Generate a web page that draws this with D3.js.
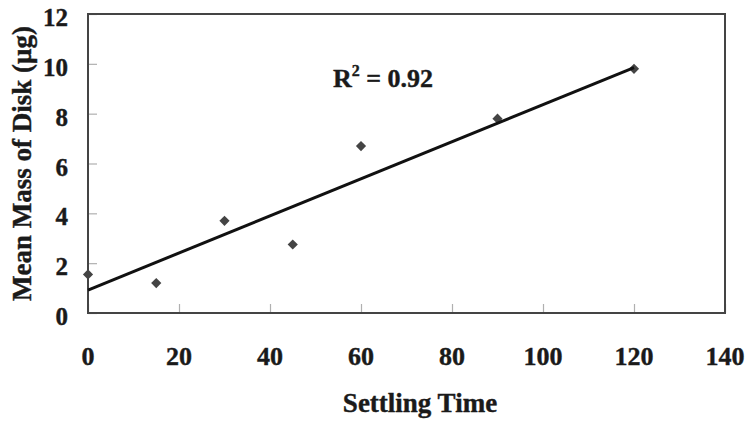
<!DOCTYPE html>
<html>
<head>
<meta charset="utf-8">
<script src="https://cdn.jsdelivr.net/npm/d3@7"></script>
<style>
  body { margin: 0; background: #fff; }
  text { font-family: "Liberation Serif", "Times New Roman", serif; font-weight: bold; fill: #1a1a1a; stroke: #1a1a1a; stroke-width: 0.4px; }
</style>
</head>
<body>
<svg width="747" height="421"></svg>
<script>
// settling time (x) and mean mass (y)
var times = [0, 15, 30, 45, 60, 90, 120]
var masses = [1.55, 1.2, 3.7, 2.75, 6.7, 7.8, 9.8]
// trend line end points
var trend = [[0, 0.92], [120, 9.85]]
var x_ticks = [0, 20, 40, 60, 80, 100, 120, 140]
var y_ticks = [0, 2, 4, 6, 8, 10, 12]

var svg = d3.select('svg')
var plot_l = 88, plot_r = 725, plot_t = 14, plot_b = 313

var x = d3.scaleLinear().domain([0, 140]).range([plot_l, plot_r])
var y = d3.scaleLinear().domain([0, 12]).range([plot_b, plot_t])

// ticks, pointing inward
svg.append('g')
  .attr('transform', 'translate(0,' + plot_b + ')')
  .call(d3.axisTop(x).tickValues(x_ticks).tickSize(9).tickFormat(''))
  .call((g) => g.select('.domain').remove())
  .call((g) => g.selectAll('line').attr('stroke', '#b0b0b0').attr('stroke-width', 1.2))

svg.append('g')
  .attr('transform', 'translate(' + plot_l + ',0)')
  .call(d3.axisRight(y).tickValues(y_ticks).tickSize(9).tickFormat(''))
  .call((g) => g.select('.domain').remove())
  .call((g) => g.selectAll('line').attr('stroke', '#b0b0b0').attr('stroke-width', 1.2))

// tick labels
svg.selectAll('.xlab')
  .data(x_ticks)
  .enter().append('text')
    .attr('class', 'xlab')
    .attr('x', (d) => x(d))
    .attr('y', 365)
    .attr('text-anchor', 'middle')
    .attr('font-size', 26)
    .text((d) => d)

svg.selectAll('.ylab')
  .data(y_ticks)
  .enter().append('text')
    .attr('class', 'ylab')
    .attr('x', 68)
    .attr('y', (d) => y(d) + 12)
    .attr('text-anchor', 'end')
    .attr('font-size', 25)
    .text((d) => d)

// plot frame
svg.append('rect')
  .attr('x', plot_l).attr('y', plot_t)
  .attr('width', plot_r - plot_l).attr('height', plot_b - plot_t)
  .attr('fill', 'none')
  .attr('stroke', '#444')
  .attr('stroke-width', 2)

// points
svg.selectAll('.pt')
  .data(times)
  .enter().append('path')
    .attr('class', 'pt')
    .attr('d', d3.symbol(d3.symbolSquare, 52))
    .attr('transform', (d, i) => 'translate(' + x(d) + ',' + y(masses[i]) + ') rotate(45)')
    .attr('fill', '#444')

// trend line
svg.append('path')
  .datum(trend)
  .attr('d', d3.line().x((d) => x(d[0])).y((d) => y(d[1])))
  .attr('stroke', '#111')
  .attr('stroke-width', 3)
  .attr('fill', 'none')

// R squared
var r2 = svg.append('text')
  .attr('x', 333).attr('y', 87)
  .attr('font-size', 26)
r2.append('tspan').text('R')
r2.append('tspan').attr('dy', -11).attr('font-size', 16).text('2')
r2.append('tspan').attr('dy', 11).text(' = 0.92')

// axis titles
svg.append('text')
  .attr('x', 420).attr('y', 412)
  .attr('text-anchor', 'middle')
  .attr('font-size', 27)
  .text('Settling Time')

svg.append('text')
  .attr('transform', 'translate(31,' + (plot_t + plot_b) / 2 + ') rotate(-90)')
  .attr('text-anchor', 'middle')
  .attr('font-size', 27)
  .text('Mean Mass of Disk (μg)')
</script>
</body>
</html>
